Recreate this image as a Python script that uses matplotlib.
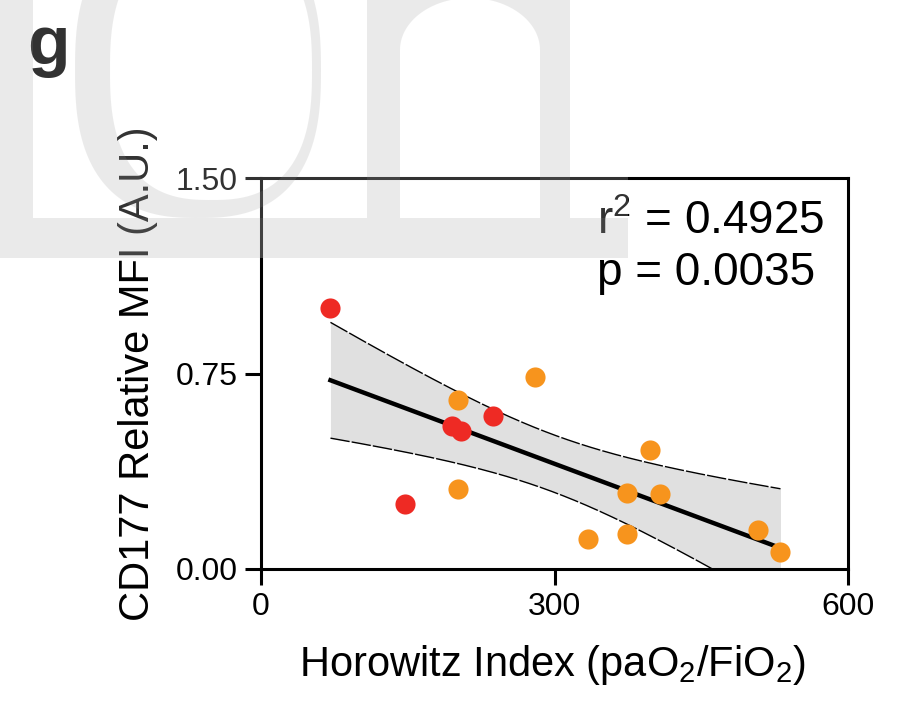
import numpy as np
import matplotlib
matplotlib.use("Agg")
import matplotlib.pyplot as plt
from matplotlib.patches import Rectangle, PathPatch
from matplotlib.path import Path

plt.rcParams['font.family'] = ['Liberation Sans', 'DejaVu Sans']
plt.rcParams['mathtext.fontset'] = 'custom'
plt.rcParams['mathtext.rm'] = 'Liberation Sans'
plt.rcParams['mathtext.it'] = 'Liberation Sans:italic'

# data
x_red = [71, 147, 195, 204, 237]
y_red = [1.00, 0.249, 0.550, 0.530, 0.587]
x_orange = [201, 201, 280, 334, 374, 374, 398, 408, 508, 531]
y_orange = [0.648, 0.307, 0.737, 0.115, 0.293, 0.134, 0.456, 0.287, 0.150, 0.064]

x_ticks = [0, 300, 600]
y_ticks = [0.00, 0.75, 1.50]
stats_text = "r$^\\mathregular{2}$ = 0.4925\np = 0.0035"

W, H = 915, 723
fig = plt.figure(figsize=(W / 100, H / 100), dpi=100)
ax = fig.add_axes([261 / W, 1 - 569 / H, (848 - 261) / W, (569 - 178) / H])

# linear fit with 95% confidence band
x_all = np.array(x_red + x_orange, dtype=float)
y_all = np.array(y_red + y_orange, dtype=float)
n = len(x_all)
slope, icpt = np.polyfit(x_all, y_all, 1)
resid = y_all - (slope * x_all + icpt)
s = np.sqrt(np.sum(resid ** 2) / (n - 2))
sxx = np.sum((x_all - x_all.mean()) ** 2)
t = 2.160  # t(0.975, df=13)
xf = np.linspace(x_all.min(), x_all.max(), 200)
yf = slope * xf + icpt
half = t * s * np.sqrt(1 / n + (xf - x_all.mean()) ** 2 / sxx)

ax.fill_between(xf, yf - half, yf + half, color='#e0e0e0', lw=0, zorder=1)
ax.plot(xf, yf + half, color='black', lw=1, ls=(0, (14, 1.5)), zorder=2)
ax.plot(xf, yf - half, color='black', lw=1, ls=(0, (14, 1.5)), zorder=2)
ax.plot(xf, yf, color='black', lw=3.2, zorder=3)

ax.scatter(x_orange, y_orange, s=210, color='#f7941d', lw=0, zorder=4)
ax.scatter(x_red, y_red, s=210, color='#ee2a24', lw=0, zorder=4)

ax.set_xlim(0, 600)
ax.set_ylim(0, 1.5)
ax.set_xticks(x_ticks)
ax.set_yticks(y_ticks)
ax.set_yticklabels(["%.2f" % v for v in y_ticks])
ax.tick_params(length=11.5, width=2.2, labelsize=23, pad=5)
for sp in ax.spines.values():
    sp.set_linewidth(2.2)

ax.set_xlabel("Horowitz Index (paO$_\\mathregular{2}$/FiO$_\\mathregular{2}$)", fontsize=30)
ax.set_ylabel("CD177 Relative MFI (A.U.)", fontsize=30)
ax.xaxis.set_label_coords(0.497, -0.19)
ax.yaxis.set_label_coords(-0.175, 0.5)

ax.text((597 - 261) / 587, (569 - 285) / 391, stats_text, transform=ax.transAxes,
        fontsize=33, ha='left', va='baseline', linespacing=1.2, zorder=5)

fig.text(27 / W, 1 - 64 / H, "g", fontsize=50, fontweight='bold', ha='left', va='baseline')


# faint watermark over the top-left corner
def fx(px):
    return px / W


def fy(py):
    return 1 - py / H


def superellipse(cx, cy, a, b, p, reverse=False):
    th = np.linspace(0, 2 * np.pi, 160)
    if reverse:
        th = th[::-1]
    c, sn = np.cos(th), np.sin(th)
    xs = cx + a * np.sign(c) * np.abs(c) ** (2 / p)
    ys = cy + b * np.sign(sn) * np.abs(sn) ** (2 / p)
    return np.column_stack([fx(xs), fy(ys)])


wm = dict(facecolor='#909090', alpha=0.18, lw=0, zorder=11, transform=fig.transFigure)

fig.add_artist(Rectangle((0, fy(258)), fx(628), 258 / H, transform=fig.transFigure,
                         facecolor='white', alpha=0.2, lw=0, zorder=10))
fig.add_artist(Rectangle((0, fy(258)), fx(628), 40 / H, **wm))
fig.add_artist(Rectangle((0, fy(218)), fx(33), 228 / H, **wm))

outer = superellipse(198, 70, 123, 148, 2.6)
inner = superellipse(211, 70, 101, 130, 2.6, reverse=True)
verts = np.vstack([outer, inner])
codes = ([Path.MOVETO] + [Path.LINETO] * 159) * 2
fig.add_artist(PathPatch(Path(verts, codes), **wm))

arc = np.linspace(0, np.pi, 60)
n_pts = [(367, 218), (367, -20), (570, -20), (570, 218), (540, 218), (540, 50)]
n_pts += [(470 + 70 * np.cos(a), 50 - 52 * np.sin(a)) for a in arc]
n_pts += [(400, 218)]
n_verts = [(fx(a), fy(b)) for a, b in n_pts]
fig.add_artist(plt.Polygon(n_verts, closed=True, **wm))

fig.savefig("out.png", dpi=100)
